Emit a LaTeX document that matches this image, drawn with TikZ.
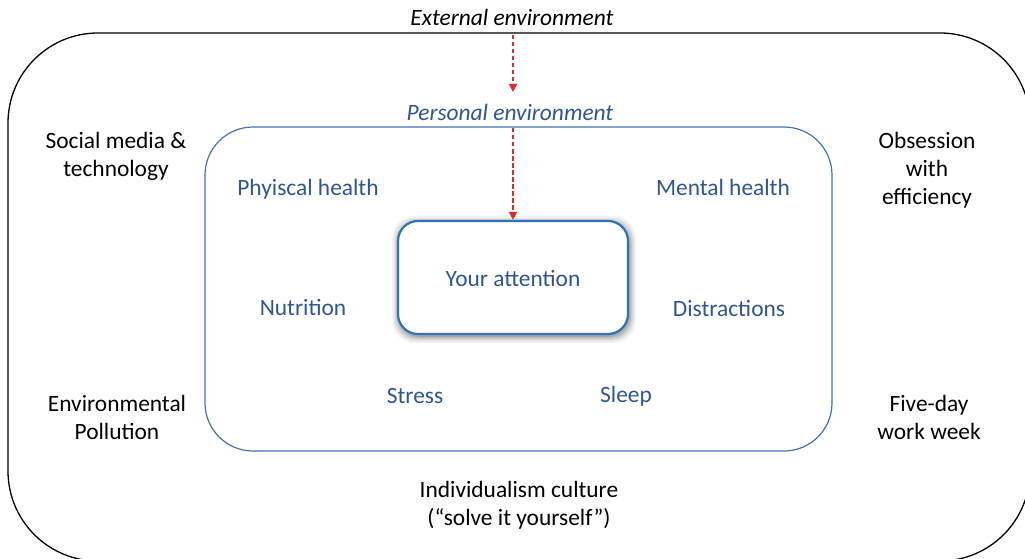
\documentclass[tikz,border=0pt]{standalone}
\usepackage{fontspec}
\setmainfont{Carlito}
\usetikzlibrary{arrows.meta}
\definecolor{txtblue}{RGB}{47,85,151}
\definecolor{boxblue}{RGB}{68,114,180}
\definecolor{attblue}{RGB}{46,117,182}
\definecolor{arrred}{RGB}{230,40,40}
\tikzset{
  lbl/.style={font=\fontsize{23.4}{28}\selectfont, align=center, inner sep=0pt},
  blbl/.style={lbl, text=txtblue},
  redarrow/.style={draw=arrred, line width=1.4pt, dash pattern=on 4.5pt off 2.5pt, -{Triangle[length=8pt,width=8pt]}},
}
\begin{document}
\begin{tikzpicture}[x=1pt,y=-1pt]
\useasboundingbox (0,0) rectangle (1025,559);
\clip (0,0) rectangle (1025,559);
% outer box
\draw[line width=1.3pt, rounded corners=90pt] (8,33) rectangle (1030,561);
% inner box
\draw[boxblue, line width=1.2pt, rounded corners=48pt] (205,127) rectangle (832,451);
% shadow of attention box
\foreach \d/\o in {7/0.04,5.5/0.06,4/0.08,2.5/0.1,1/0.12}{
  \fill[black, opacity=\o, rounded corners=22pt] (398-\d+1,221-\d+2) rectangle (628+\d+1,334+\d+2);
}
\node[draw=attblue, fill=white, line width=2.2pt, rounded corners=20pt, minimum width=230pt, minimum height=113pt, inner sep=0pt] (att) at (513,277.5) {};
\node[blbl] (atttxt) at (513,278) {Your attention};
% labels
\node[lbl, font=\fontsize{23.4}{28}\selectfont\itshape] (ext) at (512,17) {External environment};
\node[blbl, font=\fontsize{23.4}{28}\selectfont\itshape] (pers) at (510,112) {Personal environment};
\coordinate (inntop) at (513,128);
\node[lbl] (soc) at (116,156) {Social media \&\\technology};
\node[lbl] (obs) at (927,170) {Obsession\\with\\efficiency};
\node[lbl] (envp) at (117,417) {Environmental\\Pollution};
\node[lbl] (five) at (929,417) {Five-day\\work week};
\node[lbl] (ind) at (519,505) {Individualism culture\\(“solve it yourself”)};
\node[blbl] (phy) at (308,189) {Phyiscal health};
\node[blbl] (men) at (723,187) {Mental health};
\node[blbl] (nut) at (303,307) {Nutrition};
\node[blbl] (dis) at (729,308) {Distractions};
\node[blbl] (str) at (415,396) {Stress};
\node[blbl] (slp) at (626,396) {Sleep};
% arrows
\coordinate (a1s) at (513,35);
\coordinate (a1e) at (513,92);
\draw[redarrow] (a1s) -- (a1e);
\draw[redarrow] (inntop) -- (att.north);
\end{tikzpicture}
\end{document}
